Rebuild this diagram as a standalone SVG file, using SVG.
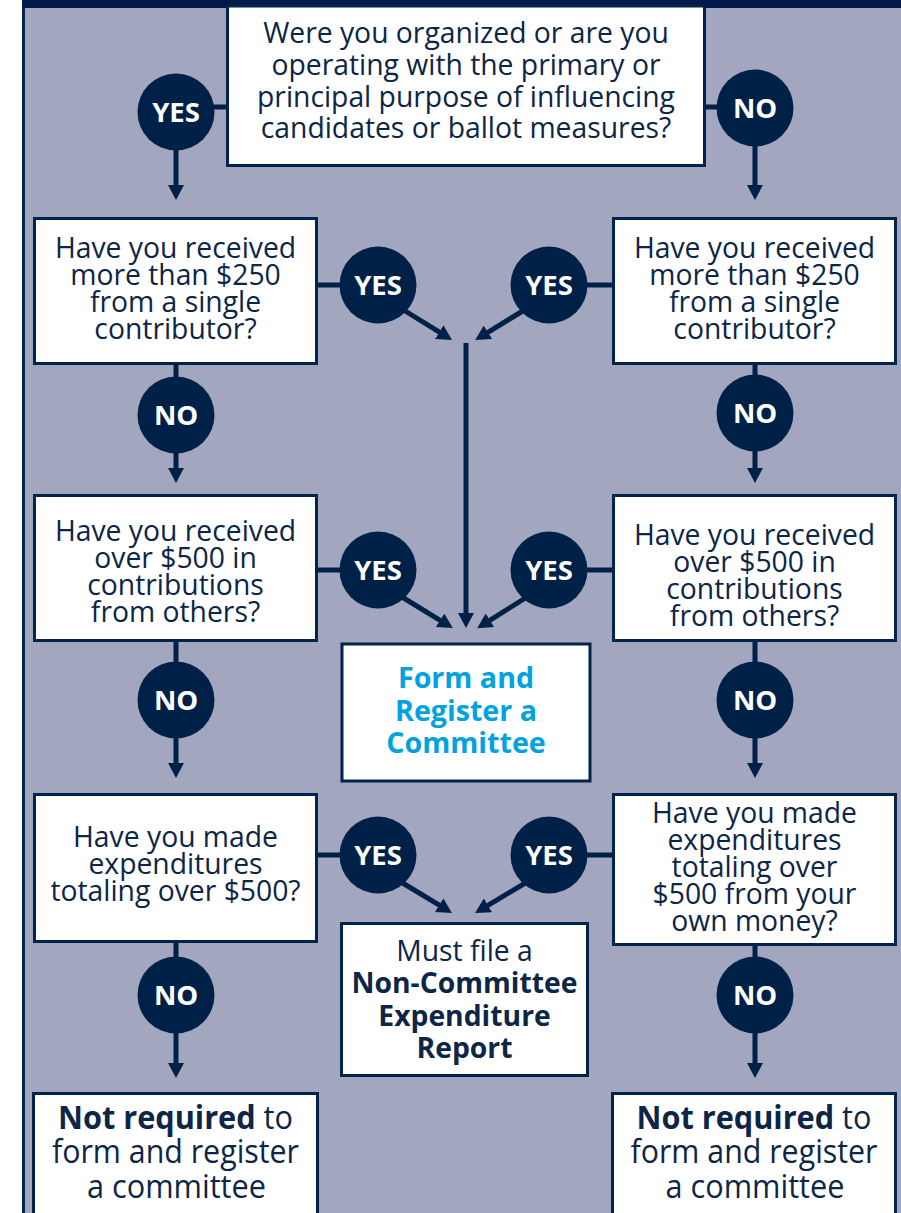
<svg xmlns="http://www.w3.org/2000/svg" width="901" height="1213" viewBox="0 0 901 1213">
<style>
.box{fill:#ffffff;stroke:#03234b;stroke-width:3}
.circ{fill:#002147}
.lbl{font-family:"Open Sans","Noto Sans",sans-serif;font-weight:bold;font-size:27.5px;fill:#ffffff;text-anchor:middle}
.q{font-family:"Open Sans","Noto Sans",sans-serif;font-size:28.3px;fill:#0d2546;text-anchor:middle}
.e{font-family:"Open Sans","Noto Sans",sans-serif;font-size:33px;fill:#0d2546;text-anchor:middle}
.b{font-weight:bold}
.cyan{font-family:"Open Sans","Noto Sans",sans-serif;font-weight:bold;font-size:28.6px;fill:#00a3df;text-anchor:middle}
.ln{stroke:#002147;stroke-width:5;fill:none}
.ar{stroke:#002147;stroke-width:5;fill:none;marker-end:url(#ah)}
</style>
<defs>
<marker id="ah" markerUnits="userSpaceOnUse" markerWidth="16" markerHeight="16" refX="3" refY="8" orient="auto" viewBox="0 0 16 16">
<path d="M0,0 L15,8 L0,16 z" fill="#002147"/>
</marker>
</defs>
<rect x="0" y="0" width="901" height="1213" fill="#ffffff"/>
<rect x="23" y="0" width="878" height="1213" fill="#a2a7bf"/>
<rect x="22" y="0" width="3" height="1213" fill="#012249"/>
<rect x="22" y="0" width="879" height="8" fill="#011a4b"/>

<g id="connectors">
<line class="ln" x1="213" y1="107" x2="228" y2="107"/>
<line class="ar" x1="176" y1="148" x2="176" y2="188"/>
<line class="ln" x1="704" y1="107" x2="718" y2="107"/>
<line class="ar" x1="755" y1="144" x2="755" y2="188"/>

<line class="ln" x1="316" y1="285" x2="341" y2="285"/>
<line class="ar" x1="402" y1="309" x2="441.8" y2="333.7"/>
<line class="ln" x1="587" y1="285" x2="614" y2="285"/>
<line class="ar" x1="526" y1="309" x2="485.4" y2="333.8"/>
<line class="ar" x1="466" y1="343" x2="466" y2="616"/>

<line class="ln" x1="176" y1="363" x2="176" y2="378"/>
<line class="ar" x1="176" y1="451" x2="176" y2="471"/>
<line class="ln" x1="755" y1="363" x2="755" y2="376"/>
<line class="ar" x1="755" y1="449" x2="755" y2="471"/>

<line class="ln" x1="316" y1="570" x2="341" y2="570"/>
<line class="ar" x1="402" y1="597" x2="442.6" y2="621.8"/>
<line class="ln" x1="587" y1="570" x2="614" y2="570"/>
<line class="ar" x1="527" y1="597" x2="487.4" y2="621.8"/>

<line class="ln" x1="176" y1="640" x2="176" y2="663"/>
<line class="ar" x1="176" y1="736" x2="176" y2="766"/>
<line class="ln" x1="755" y1="640" x2="755" y2="663"/>
<line class="ar" x1="755" y1="736" x2="755" y2="766"/>

<line class="ln" x1="316" y1="855" x2="341" y2="855"/>
<line class="ar" x1="401" y1="882" x2="441.7" y2="906.7"/>
<line class="ln" x1="587" y1="855" x2="614" y2="855"/>
<line class="ar" x1="527" y1="882" x2="485.4" y2="906.8"/>

<line class="ln" x1="176" y1="941" x2="176" y2="958"/>
<line class="ar" x1="176" y1="1031" x2="176" y2="1066"/>
<line class="ln" x1="755" y1="944" x2="755" y2="958"/>
<line class="ar" x1="755" y1="1031" x2="755" y2="1066"/>
</g>

<g id="q1">
<rect class="box" x="227.5" y="6" width="477" height="159.5"/>
<text class="q" font-size="29.4"><tspan x="466" y="43">Were you organized or are you</tspan><tspan x="466" y="75">operating with the primary or</tspan><tspan x="466" y="107">principal purpose of influencing</tspan><tspan x="466" y="138">candidates or ballot measures?</tspan></text>
</g>
<g id="yes1"><circle class="circ" cx="176" cy="112" r="38.5"/><text class="lbl" x="176" y="122">YES</text></g>
<g id="no1"><circle class="circ" cx="755" cy="108" r="38.5"/><text class="lbl" x="755" y="118">NO</text></g>

<g id="q2l">
<rect class="box" x="34.5" y="218.5" width="282" height="145"/>
<text class="q"><tspan x="175.5" y="258">Have you received</tspan><tspan x="175.5" y="285">more than $250</tspan><tspan x="175.5" y="312">from a single</tspan><tspan x="175.5" y="339">contributor?</tspan></text>
</g>
<g id="q2r">
<rect class="box" x="613.5" y="218.5" width="282" height="145"/>
<text class="q"><tspan x="754.5" y="258">Have you received</tspan><tspan x="754.5" y="285">more than $250</tspan><tspan x="754.5" y="312">from a single</tspan><tspan x="754.5" y="339">contributor?</tspan></text>
</g>
<g id="yes2l"><circle class="circ" cx="378" cy="285" r="38.5"/><text class="lbl" x="378" y="295">YES</text></g>
<g id="yes2r"><circle class="circ" cx="549" cy="285" r="38.5"/><text class="lbl" x="549" y="295">YES</text></g>
<g id="no2l"><circle class="circ" cx="176" cy="415" r="38.5"/><text class="lbl" x="176" y="425">NO</text></g>
<g id="no2r"><circle class="circ" cx="755" cy="413" r="38.5"/><text class="lbl" x="755" y="423">NO</text></g>

<g id="q3l">
<rect class="box" x="34.5" y="495.5" width="282" height="145"/>
<text class="q"><tspan x="175.5" y="541">Have you received</tspan><tspan x="175.5" y="568">over $500 in</tspan><tspan x="175.5" y="595">contributions</tspan><tspan x="175.5" y="622">from others?</tspan></text>
</g>
<g id="q3r">
<rect class="box" x="613.5" y="495.5" width="282" height="145"/>
<text class="q"><tspan x="754.5" y="545">Have you received</tspan><tspan x="754.5" y="572">over $500 in</tspan><tspan x="754.5" y="599">contributions</tspan><tspan x="754.5" y="626">from others?</tspan></text>
</g>
<g id="yes3l"><circle class="circ" cx="378" cy="570" r="38.5"/><text class="lbl" x="378" y="580">YES</text></g>
<g id="yes3r"><circle class="circ" cx="549" cy="570" r="38.5"/><text class="lbl" x="549" y="580">YES</text></g>

<g id="form">
<rect class="box" x="342" y="644" width="248" height="137" stroke-width="4"/>
<text class="cyan"><tspan x="466" y="688">Form and</tspan><tspan x="466" y="721">Register a</tspan><tspan x="466" y="753">Committee</tspan></text>
</g>
<g id="no3l"><circle class="circ" cx="176" cy="700" r="38.5"/><text class="lbl" x="176" y="710">NO</text></g>
<g id="no3r"><circle class="circ" cx="755" cy="700" r="38.5"/><text class="lbl" x="755" y="710">NO</text></g>

<g id="q4l">
<rect class="box" x="34.5" y="794.5" width="282" height="147"/>
<text class="q"><tspan x="175.5" y="847">Have you made</tspan><tspan x="175.5" y="874">expenditures</tspan><tspan x="175.5" y="901">totaling over $500?</tspan></text>
</g>
<g id="q4r">
<rect class="box" x="613.5" y="794.5" width="282" height="150"/>
<text class="q"><tspan x="754.5" y="823">Have you made</tspan><tspan x="754.5" y="850">expenditures</tspan><tspan x="754.5" y="877">totaling over</tspan><tspan x="754.5" y="904">$500 from your</tspan><tspan x="754.5" y="931">own money?</tspan></text>
</g>
<g id="yes4l"><circle class="circ" cx="378" cy="855" r="38.5"/><text class="lbl" x="378" y="865">YES</text></g>
<g id="yes4r"><circle class="circ" cx="549" cy="855" r="38.5"/><text class="lbl" x="549" y="865">YES</text></g>

<g id="report">
<rect class="box" x="341.5" y="923.5" width="246" height="152"/>
<text class="q" font-size="28.5"><tspan x="464.5" y="961">Must file a</tspan><tspan class="b" x="464.5" y="993">Non-Committee</tspan><tspan class="b" x="464.5" y="1026">Expenditure</tspan><tspan class="b" x="464.5" y="1058">Report</tspan></text>
</g>
<g id="no4l"><circle class="circ" cx="176" cy="995" r="38.5"/><text class="lbl" x="176" y="1005">NO</text></g>
<g id="no4r"><circle class="circ" cx="755" cy="995" r="38.5"/><text class="lbl" x="755" y="1005">NO</text></g>

<g id="endl">
<rect class="box" x="33.5" y="1093.5" width="284" height="130"/>
<text class="e" x="175.5" y="1129" textLength="235" lengthAdjust="spacingAndGlyphs"><tspan class="b">Not required</tspan> to</text>
<text class="e" x="175.5" y="1163" textLength="247" lengthAdjust="spacingAndGlyphs">form and register</text>
<text class="e" x="176.5" y="1198" textLength="179" lengthAdjust="spacingAndGlyphs">a committee</text>
</g>
<g id="endr">
<rect class="box" x="612.5" y="1093.5" width="283" height="130"/>
<text class="e" x="754" y="1129" textLength="235" lengthAdjust="spacingAndGlyphs"><tspan class="b">Not required</tspan> to</text>
<text class="e" x="754" y="1163" textLength="247" lengthAdjust="spacingAndGlyphs">form and register</text>
<text class="e" x="755" y="1198" textLength="179" lengthAdjust="spacingAndGlyphs">a committee</text>
</g>
</svg>
